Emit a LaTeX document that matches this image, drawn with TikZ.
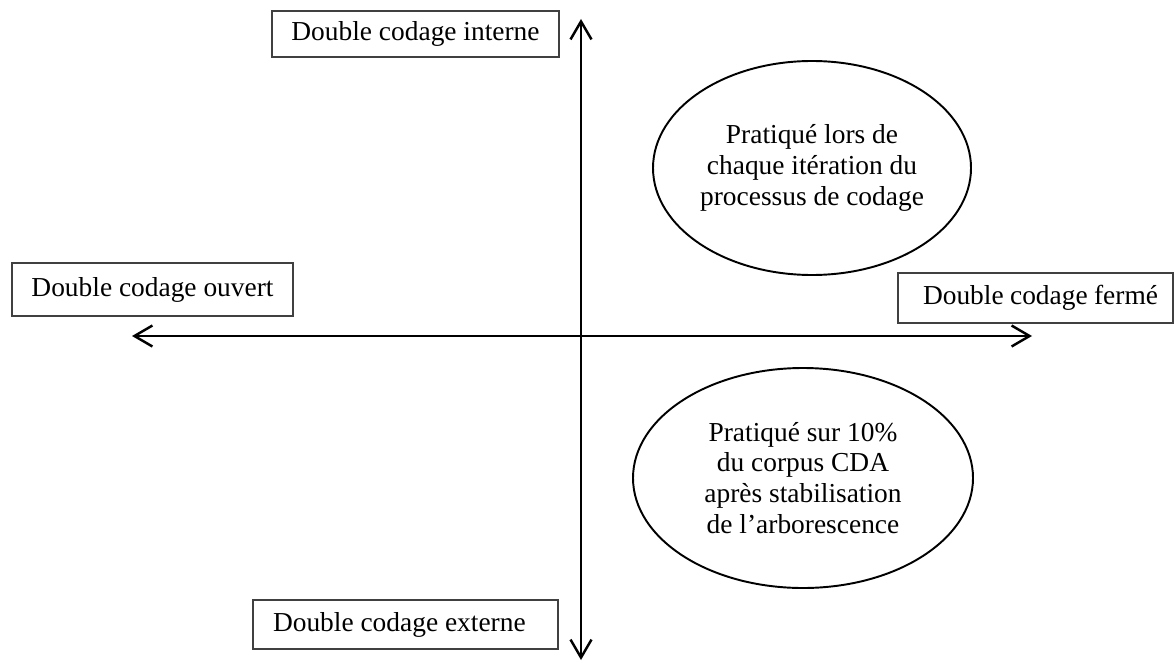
\documentclass[tikz,border=0pt]{standalone}
\usepackage{fontspec}
\setmainfont{Liberation Serif}
\usepackage{tikz}
\usetikzlibrary{arrows.meta,positioning,shapes.geometric}

\begin{document}
\begin{tikzpicture}[scale=1,
  axisline/.style={{Straight Barb[length=3.6mm,width=4.2mm]}-{Straight Barb[length=3.6mm,width=4.2mm]},line width=1.4pt},
  pole/.style={draw=black!75,line width=0.6pt,rectangle,inner xsep=0pt,align=center,
    font=\fontsize{15.6}{17}\selectfont},
  bubble/.style={draw,ellipse,line width=1.1pt,inner sep=0pt,align=center,
    font=\fontsize{15.6}{17.6}\selectfont}
  ]
\useasboundingbox (0,0) rectangle (23.48,13.24);

% Axis ends
\coordinate (N) at (11.62,12.86);
\coordinate (S) at (11.62,0.04);
\coordinate (W) at (2.64,6.52);
\coordinate (E) at (20.64,6.52);

% Axes
\draw[axisline] (S) -- (N);
\draw[axisline] (W) -- (E);

% Poles of the two axes
\node[pole,minimum width=5.74cm,minimum height=0.92cm] (interne) at (8.31,12.56)
  {Double codage interne};
\node[pole,minimum width=5.62cm,minimum height=1.06cm] (ouvert)  at (3.05,7.45)
  {Double codage ouvert};
\node[pole,text width=4.9cm,inner xsep=0.3cm,align=flush left,minimum height=1.00cm] (ferme) at (20.71,7.28)
  {\hspace{0.2cm}Double codage fermé};
\node[pole,text width=5.3cm,inner xsep=0.4cm,align=flush left,minimum height=0.98cm] (externe) at (8.11,0.75)
  {Double codage externe};

% Ellipses
\node[bubble,minimum width=6.36cm,minimum height=4.28cm] (E1) at (16.24,9.88)
  {Pratiqué lors de\\chaque itération du\\processus de codage};
\node[bubble,minimum width=6.8cm,minimum height=4.4cm] (E2) at (16.06,3.68)
  {Pratiqué sur 10\%\\du corpus CDA\\après stabilisation\\de l’arborescence};

\end{tikzpicture}
\end{document}
